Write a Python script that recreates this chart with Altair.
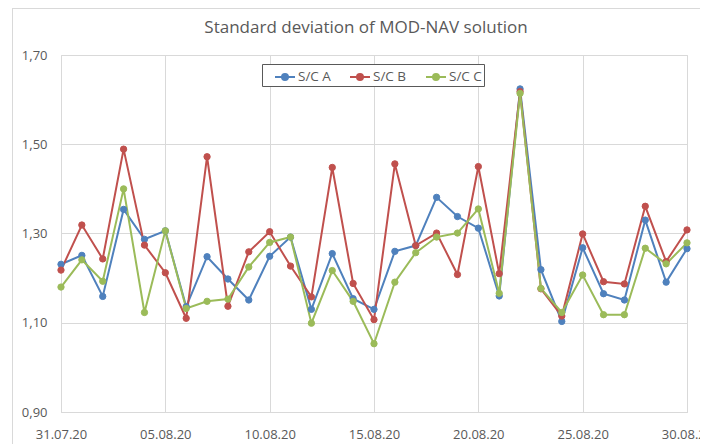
import altair as alt
import pandas as pd

# ---- data ----
dates = [d.strftime("%Y-%m-%d") for d in pd.date_range("2020-07-31", "2020-08-30", freq="D")]
sc_a = [1.231, 1.251, 1.159, 1.354, 1.287, 1.306, 1.136, 1.248, 1.198, 1.151,
        1.249, 1.292, 1.130, 1.255, 1.154, 1.130, 1.260, 1.273, 1.381, 1.338,
        1.312, 1.160, 1.624, 1.219, 1.103, 1.268, 1.165, 1.151, 1.330, 1.191, 1.266]
sc_b = [1.218, 1.319, 1.243, 1.489, 1.274, 1.212, 1.110, 1.472, 1.137, 1.259,
        1.304, 1.227, 1.158, 1.448, 1.188, 1.107, 1.456, 1.273, 1.301, 1.208,
        1.450, 1.210, 1.618, 1.176, 1.115, 1.299, 1.192, 1.187, 1.361, 1.237, 1.308]
sc_c = [1.180, 1.241, 1.193, 1.400, 1.123, 1.306, 1.132, 1.148, 1.153, 1.225,
        1.280, 1.292, 1.099, 1.217, 1.148, 1.053, 1.191, 1.257, 1.292, 1.301,
        1.355, 1.166, 1.614, 1.177, 1.123, 1.207, 1.118, 1.118, 1.267, 1.232, 1.279]
series_names = ["S/C A", "S/C B", "S/C C"]
series_colors = ["#4F81BD", "#C0504D", "#9BBB59"]
x_tick_dates = ["2020-07-31", "2020-08-05", "2020-08-10", "2020-08-15",
                "2020-08-20", "2020-08-25", "2020-08-30"]
y_ticks = [0.90, 1.10, 1.30, 1.50, 1.70]
title_text = "Standard deviation of MOD-NAV solution"

# ---- build table ----
rows = []
for name, vals in zip(series_names, [sc_a, sc_b, sc_c]):
    for d, v in zip(dates, vals):
        rows.append({"date": d, "value": v, "series": name})
df = pd.DataFrame(rows)

def ms(d):
    return int(pd.Timestamp(d, tz="UTC").timestamp() * 1000)

x_ticks_ms = [ms(d) for d in x_tick_dates]

FONT = "Segoe UI, Open Sans, sans-serif"
GRAY = "#595959"
GRID = "#d9d9d9"

sym = "M-1,0H1M0.3,0A0.3,0.3,0,1,1,-0.3,0A0.3,0.3,0,1,1,0.3,0Z"

x_enc = alt.X("date:T",
              scale=alt.Scale(type="utc", domain=[ms(dates[0]), ms(dates[-1])], nice=False),
              axis=alt.Axis(values=x_ticks_ms, labelExpr="utcFormat(datum.value, '%d.%m.%y')",
                            title=None, grid=True, gridColor=GRID, domain=True, domainColor=GRID,
                            ticks=False, labelPadding=16, labelFont=FONT, labelFontSize=13,
                            labelColor=GRAY, labelFlush=False, labelOverlap=False))
y_enc = alt.Y("value:Q",
              scale=alt.Scale(domain=[0.9, 1.7], nice=False, zero=False),
              axis=alt.Axis(values=y_ticks,
                            labelExpr="replace(format(datum.value, '.2f'), '.', ',')",
                            title=None, grid=True, gridColor=GRID, domain=False, ticks=False,
                            labelPadding=14, labelFont=FONT, labelFontSize=13, labelColor=GRAY))

leg = alt.Legend(
    title=None, orient="none", direction="horizontal",
    legendX=201, legendY=9,
    symbolType=sym, symbolSize=400, symbolStrokeWidth=2,
    labelFont=FONT, labelFontSize=13.5, labelColor=GRAY,
    labelOffset=2, columnPadding=8, padding=2,
    strokeColor=GRAY, fillColor="white", symbolOffset=10)

cscale = alt.Scale(domain=series_names, range=series_colors)

line = alt.Chart(df).mark_line(strokeWidth=2).encode(
    x=x_enc, y=y_enc,
    stroke=alt.Stroke("series:N", scale=cscale, legend=leg),
)
pts = alt.Chart(df).mark_point(filled=True, size=40, opacity=1, strokeWidth=1).encode(
    x=x_enc, y=y_enc,
    color=alt.Color("series:N", scale=cscale, legend=leg),
    stroke=alt.Stroke("series:N", scale=cscale, legend=leg),
)

frame_left = alt.Chart(df).mark_rule(color=GRID, strokeWidth=1).encode(
    x=alt.value(-48.5), y=alt.value(-47), y2=alt.value(400))
frame_top = alt.Chart(df).mark_rule(color=GRID, strokeWidth=1).encode(
    x=alt.value(-48.5), x2=alt.value(700), y=alt.value(-46.5))

chart = alt.layer(frame_left, frame_top, line, pts).properties(
    width=626, height=357,
    autosize=alt.AutoSizeParams(type="none"),
    padding={"left": 53, "top": 47, "right": 13, "bottom": 32},
    title=alt.TitleParams(title_text, font=FONT, fontSize=17, fontWeight="normal",
                          color=GRAY, anchor="middle", dx=-8, offset=-29),
).configure_view(stroke=None).configure(background="white")

chart.save("out.html", embed_options={"renderer": "svg", "actions": False})
